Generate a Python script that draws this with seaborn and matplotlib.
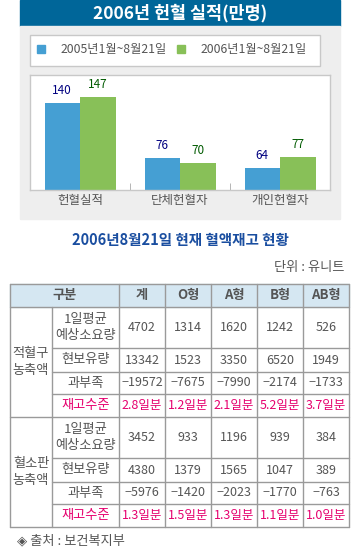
import matplotlib
matplotlib.use('Agg')
import matplotlib.pyplot as plt
import seaborn as sns
import pandas as pd
from matplotlib.patches import Rectangle

# --- bar chart data ---
groups = ['헌혈실적', '단체헌혈자', '개인헌혈자']
series = ['2005년1월~8월21일', '2006년1월~8월21일']
vals_2005 = [140, 76, 64]
vals_2006 = [147, 70, 77]

# --- table data ---
blood_types = ['계', 'O형', 'A형', 'B형', 'AB형']
row_names = ['1일평균\n예상소요량', '현보유량', '과부족', '재고수준']
rbc_need = [4702, 1314, 1620, 1242, 526]
rbc_stock = [13342, 1523, 3350, 6520, 1949]
rbc_gap = [-19572, -7675, -7990, -2174, -1733]
rbc_level = ['2.8일분', '1.2일분', '2.1일분', '5.2일분', '3.7일분']
plt_need = [3452, 933, 1196, 939, 384]
plt_stock = [4380, 1379, 1565, 1047, 389]
plt_gap = [-5976, -1420, -2023, -1770, -763]
plt_level = ['1.3일분', '1.5일분', '1.3일분', '1.1일분', '1.0일분']

sns.set_style('white')
plt.rcParams['font.family'] = ['Noto Sans CJK KR', 'DejaVu Sans']

W, H = 360, 550
BLUE = '#459fd3'
GREEN = '#88c058'
GRAY_TXT = '#555555'
LINE = '#9a9a9a'
RED = '#e6006e'

fig = plt.figure(figsize=(3.6, 5.5), dpi=100)
fig.patch.set_facecolor('white')

# full-figure pixel axes for backgrounds, texts, table
bg = fig.add_axes([0, 0, 1, 1])
bg.set_xlim(0, W)
bg.set_ylim(H, 0)
bg.axis('off')

bg.add_patch(Rectangle((20, 0), 320, 26, color='#006699', zorder=0))
bg.add_patch(Rectangle((20, 26), 320, 193, color='#eeeeee', zorder=0))
bg.text(180, 13.5, '2006년 헌혈 실적(만명)', color='white', fontsize=12.5,
        fontweight='bold', ha='center', va='center')

# legend box
bg.add_patch(Rectangle((30, 35), 290, 31, facecolor='white', edgecolor='#c8c8c8', lw=1))
for i, (s, c) in enumerate(zip(series, [BLUE, GREEN])):
    x0 = 37 + i * 140
    bg.add_patch(Rectangle((x0, 45), 8, 8, color=c))
    bg.text(x0 + 24, 49.5, s, color=GRAY_TXT, fontsize=8.8, va='center')

# --- bar chart ---
df = pd.DataFrame({
    'group': groups * 2,
    'series': [series[0]] * 3 + [series[1]] * 3,
    'value': vals_2005 + vals_2006,
})
ax = fig.add_axes([30 / W, 1 - 190 / H, 300 / W, 115 / H])
sns.barplot(data=df, x='group', y='value', hue='series', palette=[BLUE, GREEN],
            width=0.71, saturation=1, ax=ax, legend=False)
for p in ax.patches:
    p.set_linewidth(0)
ax.set_xlim(-0.5, 2.5)
ax.set_ylim(38, 172.5)
ax.set_yticks([])
ax.set_xlabel('')
ax.set_ylabel('')
ax.set_xticks([0.5, 1.5], minor=True)
ax.tick_params(axis='x', which='minor', direction='in', length=5, color='#aaaaaa', bottom=True)
ax.tick_params(axis='x', which='major', length=0, labelsize=9, labelcolor=GRAY_TXT, pad=3)
for sp in ax.spines.values():
    sp.set_color('#c8c8c8')
    sp.set_linewidth(1)
for cont, col in zip(ax.containers, ['#000080', '#005a00']):
    ax.bar_label(cont, color=col, fontsize=8.5, padding=4)

# --- subtitle ---
bg.text(180, 240, '2006년8월21일 현재 혈액재고 현황', color='#1a4ea0', fontsize=10.5,
        fontweight='bold', ha='center', va='center')
bg.text(344, 267, '단위 : 유니트', color=GRAY_TXT, fontsize=9.5, ha='right', va='center')

# --- table ---
xs = [10, 52, 119, 165, 211, 257, 303, 349]
ys = [284, 307, 348, 372, 394, 417, 458, 482, 504, 527]

bg.add_patch(Rectangle((xs[0], ys[0]), xs[-1] - xs[0], ys[1] - ys[0], color='#d5e7f2', zorder=0))
# horizontal lines
for i, y in enumerate(ys):
    x_start = xs[0] if i in (0, 1, 5, 9) else xs[1]
    bg.plot([x_start, xs[-1]], [y, y], color=LINE, lw=1)
# vertical lines
for j, x in enumerate(xs):
    y_start = ys[1] if j == 1 else ys[0]
    bg.plot([x, x], [y_start, ys[-1]], color=LINE, lw=1)

def cx(j):
    return (xs[j] + xs[j + 1]) / 2

bg.text((xs[0] + xs[2]) / 2, (ys[0] + ys[1]) / 2, '구분', color=GRAY_TXT, fontsize=9.5,
        fontweight='bold', ha='center', va='center')
for j, bt in enumerate(blood_types):
    bg.text(cx(j + 2), (ys[0] + ys[1]) / 2, bt, color=GRAY_TXT, fontsize=9.5,
            fontweight='bold', ha='center', va='center')

blocks = [('적혈구\n농축액', [rbc_need, rbc_stock, rbc_gap, rbc_level], 1),
          ('혈소판\n농축액', [plt_need, plt_stock, plt_gap, plt_level], 5)]
for label, rows, start in blocks:
    bg.text(cx(0), (ys[start] + ys[start + 4]) / 2, label, color=GRAY_TXT, fontsize=9.5,
            ha='center', va='center', linespacing=1.4)
    for r, (rname, vals) in enumerate(zip(row_names, rows)):
        yc = (ys[start + r] + ys[start + r + 1]) / 2
        col = RED if r == 3 else GRAY_TXT
        bg.text(cx(1), yc, rname, color=col, fontsize=9.5, ha='center', va='center',
                linespacing=1.4)
        for j, v in enumerate(vals):
            if isinstance(v, str):
                bg.text(cx(j + 2), yc, v, color=col, fontsize=9, ha='center', va='center')
            else:
                bg.text(cx(j + 2), yc, str(v).replace('-', '−'), color=col, fontsize=9,
                        ha='center', va='center')

bg.text(17, 541, '◈ 출처 : 보건복지부', color=GRAY_TXT, fontsize=9.5, va='center')

fig.savefig('out.png', dpi=100, facecolor='white')
